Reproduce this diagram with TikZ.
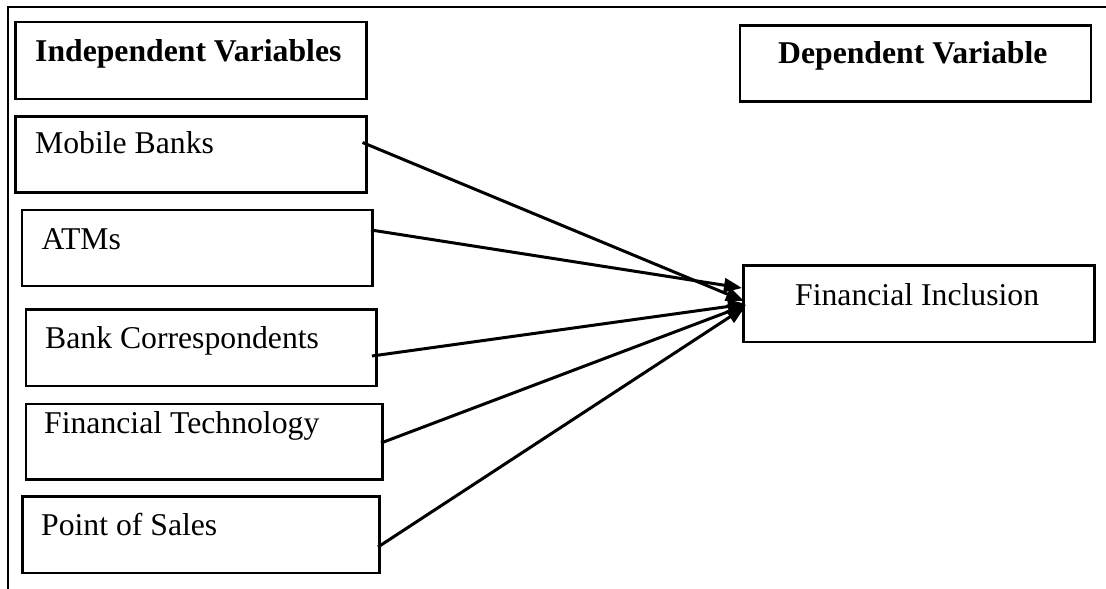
\documentclass[tikz,border=0pt]{standalone}
\usepackage{fontspec}
\setmainfont{Liberation Serif}
\usetikzlibrary{arrows.meta}
\begin{document}
\begin{tikzpicture}[x=1pt,y=-1pt,
  box/.style={draw, line width=2.6pt, rectangle, anchor=north west, inner sep=0pt},
  lbl/.style={anchor=base west, inner sep=0pt, font=\fontsize{31.7}{36}\selectfont},
  blbl/.style={lbl, font=\fontsize{31.7}{36}\selectfont\bfseries},
  link/.style={line width=3pt, -{Triangle[length=18pt,width=14pt]}}]
\useasboundingbox (0,0) rectangle (1106,589);
% outer frame
\draw[line width=2.8pt] (8,589) -- (8,7) -- (1106,7);
% boxes
\node[box, minimum width=351pt, minimum height=77pt] (iv) at (14,20.5) {};
\node[blbl] at (35,61) {Independent Variables};
\node[box, minimum width=351pt, minimum height=76pt] (dv) at (738.5,24) {};
\node[blbl] at (778,63) {Dependent Variable};
\node[box, minimum width=351pt, minimum height=76pt] (mb) at (14,115) {};
\node[lbl] at (35,153) {Mobile Banks};
\node[box, minimum width=350.5pt, minimum height=76pt] (atm) at (20.5,208.5) {};
\node[lbl] at (41.5,249) {ATMs};
\node[box, minimum width=350.5pt, minimum height=76.5pt] (bc) at (24.5,308) {};
\node[lbl] at (45,348) {Bank Correspondents};
\node[box, minimum width=356.5pt, minimum height=75.5pt] (ft) at (24.5,402.5) {};
\node[lbl] at (44,433) {Financial Technology};
\node[box, minimum width=357pt, minimum height=76.5pt] (pos) at (21,495) {};
\node[lbl] at (41,535) {Point of Sales};
\node[box, minimum width=351pt, minimum height=76.5pt] (fi) at (742,264) {};
\node[lbl] at (795,305) {Financial Inclusion};
% connector end points
\coordinate (s1) at (362.5,142.5);
\coordinate (s2) at (371,230);
\coordinate (s3) at (372,356);
\coordinate (s4) at (381,443);
\coordinate (s5) at (378,547);
\coordinate (e1) at (744,301);
\coordinate (e2) at (742,288);
\coordinate (e3) at (746,304);
\coordinate (e4) at (746,305);
\coordinate (e5) at (745,307);
\draw[link] (s1) -- (e1);
\draw[link] (s2) -- (e2);
\draw[link] (s3) -- (e3);
\draw[link] (s4) -- (e4);
\draw[link] (s5) -- (e5);
\end{tikzpicture}
\end{document}
